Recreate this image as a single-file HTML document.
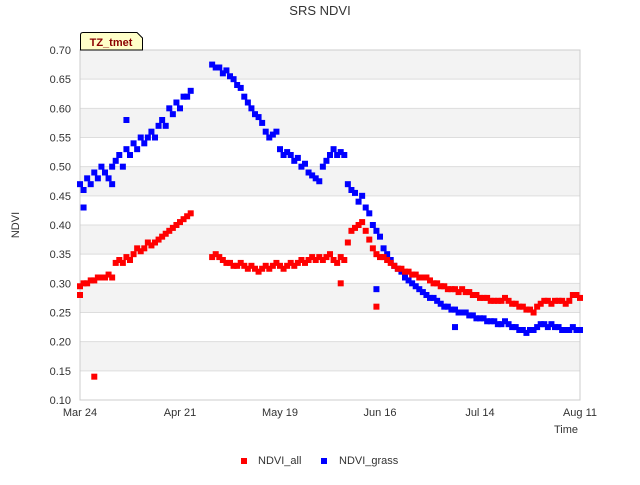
<!DOCTYPE html>
<html><head><meta charset="utf-8"><style>
body{margin:0;background:#fff;font-family:"Liberation Sans",sans-serif}
</style></head><body>
<svg width="640" height="480" xmlns="http://www.w3.org/2000/svg" font-family="Liberation Sans, sans-serif">
<text x="320" y="15" text-anchor="middle" font-size="13" fill="#333">SRS NDVI</text>
<g id="bands"></g>
<g id="yaxis"></g>
<g id="xaxis"></g>
<rect x="80" y="50" width="500" height="350" fill="none" stroke="#ccc"/>
<g id="marks"></g>
<text transform="translate(19,225) rotate(-90)" text-anchor="middle" font-size="11" fill="#333">NDVI</text>
<text x="578" y="433" text-anchor="end" font-size="11" fill="#333">Time</text>
<g>
<path d="M80.5,50 L80.5,35 Q80.5,32.5 83,32.5 L137,32.5 L142.5,38 L142.5,50 Z" fill="#ffffc8" stroke="#000"/>
<text x="111" y="46" text-anchor="middle" font-size="11" font-weight="bold" fill="#8b0000">TZ_tmet</text>
</g>
<g>
<g><rect x="241" y="458" width="6" height="6" fill="#f00"/><text x="258" y="464" font-size="11" fill="#333">NDVI_all</text></g>
<g><rect x="321" y="458" width="6" height="6" fill="#00f"/><text x="339" y="464" font-size="11" fill="#333">NDVI_grass</text></g>
</g>
</svg>
<script>
const yTicks=[0.10,0.15,0.20,0.25,0.30,0.35,0.40,0.45,0.50,0.55,0.60,0.65,0.70];
const xTickDays=[0,28,56,84,112,140];
const xTickLabels=["Mar 24","Apr 21","May 19","Jun 16","Jul 14","Aug 11"];
const N=null;
const grass=[.47,.46,.48,.47,.49,.48,.50,.49,.48,.50,
.51,.52,.50,.53,.52,.54,.53,.55,.54,.55,
.56,.55,.57,.58,.57,.60,.59,.61,.60,.62,.62,.63,
N,N,N,N,N,
.675,.67,.67,.66,.665,.655,.65,.64,.635,.62,
.61,.60,.59,.585,.575,.56,.55,.555,.56,.53,
.52,.525,.52,.51,.515,.50,.505,.49,.485,.48,
.475,.50,.51,.52,.53,.52,.525,.52,.47,.46,
.455,.44,.45,.43,.42,.40,.39,.38,.36,.35,
.34,.33,.325,.32,.31,.305,.30,.295,.29,.285,
.28,.275,.275,.27,.265,.26,.26,.255,.255,.25,
.25,.25,.245,.245,.24,.24,.24,.235,.235,.235,
.23,.23,.235,.23,.225,.225,.22,.22,.215,.22,
.22,.225,.23,.23,.225,.23,.225,.225,.22,.22,
.22,.225,.22,.22];
const all=[.295,.30,.30,.305,.305,.31,.31,.31,.315,.31,
.335,.34,.335,.345,.34,.35,.36,.355,.36,.37,
.365,.37,.375,.38,.385,.39,.395,.40,.405,.41,.415,.42,
N,N,N,N,N,
.345,.35,.345,.34,.335,.335,.33,.33,.335,.33,
.325,.33,.325,.32,.325,.33,.325,.33,.335,.33,
.325,.33,.335,.33,.335,.34,.335,.34,.345,.34,
.345,.34,.345,.35,.34,.335,.345,.34,.37,.39,
.395,.40,.405,.39,.375,.36,.35,.345,.345,.34,
.335,.33,.325,.325,.32,.32,.315,.315,.31,.31,
.31,.305,.30,.30,.295,.295,.29,.29,.29,.285,
.29,.285,.285,.28,.28,.275,.275,.275,.27,.27,
.27,.27,.275,.27,.265,.265,.26,.26,.255,.255,
.25,.26,.265,.27,.27,.265,.27,.27,.27,.265,
.27,.28,.28,.275];
const allOutDays=[0,4,73,83];
const allOutVals=[0.28,0.14,0.30,0.26];
const grassOutDays=[1,9,13,83,105];
const grassOutVals=[0.43,0.47,0.58,0.29,0.225];

const X0=80,X1=580,Y0=400,Y1=50;
const xs=d=>X0+d/140*(X1-X0);
const ys=v=>Y0-(v-0.10)/0.60*(Y0-Y1);
const NS="http://www.w3.org/2000/svg";
function mk(tag,attrs,parent){const e=document.createElementNS(NS,tag);for(const k in attrs)e.setAttribute(k,attrs[k]);parent.appendChild(e);return e;}
const bands=document.getElementById('bands'),yax=document.getElementById('yaxis'),xax=document.getElementById('xaxis'),marks=document.getElementById('marks');
for(let i=0;i<yTicks.length-1;i++){
  if(i%2===1){const r=mk('rect',{x:X0,y:ys(yTicks[i+1]),width:X1-X0,height:ys(yTicks[i])-ys(yTicks[i+1]),fill:'#f3f3f3'},bands);
  
  }
}
yTicks.forEach(t=>{
  const l=mk('line',{x1:X0,x2:X1,y1:ys(t),y2:ys(t),stroke:'#ddd'},yax);
  
  
  const tx=mk('text',{x:X0-9,y:ys(t)+4,'text-anchor':'end','font-size':11,fill:'#333'},yax);
  tx.textContent=t.toFixed(2);
  
  
});
xTickDays.forEach((d,i)=>{
  const tx=mk('text',{x:xs(d),y:416,'text-anchor':'middle','font-size':11,fill:'#333'},xax);
  tx.textContent=xTickLabels[i];
  
  
});
function pt(d,v,c,name){
  const r=mk('rect',{x:xs(d)-3,y:ys(v)-3,width:6,height:6,fill:c},marks);
  
  
}
grass.forEach((v,d)=>{if(v!==null)pt(d,v,'#00f','ndvi-grass-point');});
grassOutDays.forEach((d,i)=>pt(d,grassOutVals[i],'#00f','ndvi-grass-point'));
all.forEach((v,d)=>{if(v!==null)pt(d,v,'#f00','ndvi-all-point');});
allOutDays.forEach((d,i)=>pt(d,allOutVals[i],'#f00','ndvi-all-point'));
</script>
</body></html>
